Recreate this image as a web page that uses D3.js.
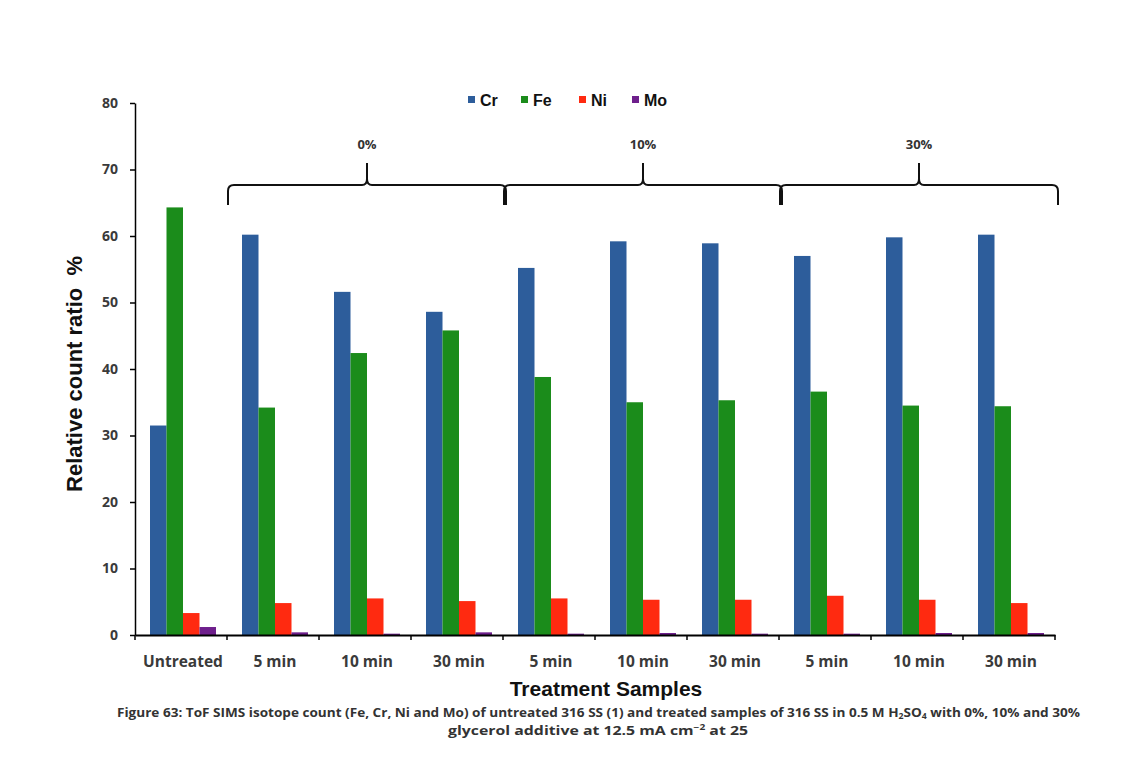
<!DOCTYPE html>
<html>
<head>
<meta charset="utf-8">
<script src="https://cdn.jsdelivr.net/npm/d3@7"></script>
<style>
  body { margin: 0; background: #fff; }
  svg { display: block; }
</style>
</head>
<body>
<svg id="chart" width="1125" height="771"></svg>
<script>
// ---- data ----
const categories = ["Untreated", "5 min", "10 min", "30 min", "5 min", "10 min", "30 min", "5 min", "10 min", "30 min"];
const seriesNames = ["Cr", "Fe", "Ni", "Mo"];
const cr = [31.5, 60.2, 51.6, 48.6, 55.2, 59.2, 58.9, 57.0, 59.8, 60.2];
const fe = [64.3, 34.2, 42.4, 45.8, 38.8, 35.0, 35.3, 36.6, 34.5, 34.4];
const ni = [3.3, 4.8, 5.5, 5.1, 5.5, 5.3, 5.3, 5.9, 5.3, 4.8];
const mo = [1.2, 0.4, 0.2, 0.4, 0.2, 0.3, 0.2, 0.2, 0.3, 0.3];
const yTicks = [0, 10, 20, 30, 40, 50, 60, 70, 80];
const groups = [
  { label: "0%", from: 1, to: 3 },
  { label: "10%", from: 4, to: 6 },
  { label: "30%", from: 7, to: 9 }
];
const colors = ["#2d5d9b", "#1b8c1b", "#ff2a10", "#6e1f8c"];

// ---- layout ----
const svg = d3.select("#chart");
const mLeft = 135, mRight = 1055, mTop = 103, mBottom = 635;

const x = d3.scaleBand().domain(d3.range(categories.length)).range([mLeft, mRight]).paddingInner(0).paddingOuter(0);
const inner = d3.scaleBand().domain(seriesNames).range([15, 15 + 66]);
const y = d3.scaleLinear().domain([0, 80]).range([mBottom, mTop]);

const seriesValues = [cr, fe, ni, mo];

// bars
seriesNames.forEach((s, si) => {
  svg.append("g").selectAll("rect")
    .data(seriesValues[si])
    .join("rect")
    .attr("x", (d, i) => x(i) + inner(s))
    .attr("y", d => y(d))
    .attr("width", inner.bandwidth())
    .attr("height", d => y(0) - y(d))
    .attr("fill", colors[si]);
});

// y axis
const yAxis = d3.axisLeft(y).tickValues(yTicks).tickSize(5).tickSizeOuter(0).tickPadding(12);
const yg = svg.append("g").attr("transform", `translate(${mLeft},0)`).call(yAxis);
yg.select(".domain").attr("stroke", "#000").attr("stroke-width", 1.5);
yg.selectAll(".tick line").attr("stroke", "#000").attr("stroke-width", 1.5);
yg.selectAll(".tick text")
  .attr("font-family", "'Open Sans', 'Liberation Sans', sans-serif")
  .attr("font-weight", "bold").attr("font-size", 14).attr("fill", "#3a3a3a");

// x axis
const xAxis = d3.axisBottom(x).tickValues([]).tickSizeOuter(0);
const xg = svg.append("g").attr("transform", `translate(0,${mBottom})`).call(xAxis);
xg.select(".domain").attr("stroke", "#000").attr("stroke-width", 2);
// category boundary ticks
svg.append("g").selectAll("line")
  .data(d3.range(categories.length + 1))
  .join("line")
  .attr("x1", i => mLeft + i * x.step())
  .attr("x2", i => mLeft + i * x.step())
  .attr("y1", mBottom)
  .attr("y2", mBottom + 5)
  .attr("stroke", "#000").attr("stroke-width", 1.5);
// category labels
svg.append("g").selectAll("text")
  .data(categories)
  .join("text")
  .attr("x", (d, i) => x(i) + x.bandwidth() / 2 + 2)
  .attr("y", 667)
  .attr("text-anchor", "middle")
  .attr("font-family", "'Open Sans', 'Liberation Sans', sans-serif")
  .attr("font-weight", "bold").attr("font-size", 15.5).attr("fill", "#3a3a3a")
  .text(d => d);

// axis titles
svg.append("text")
  .attr("transform", "translate(82,374) rotate(-90)")
  .attr("text-anchor", "middle")
  .attr("font-family", "'Liberation Sans', Arial, sans-serif")
  .attr("font-weight", "bold").attr("font-size", 22).attr("fill", "#111")
  .attr("xml:space", "preserve")
  .text("Relative count ratio  %");

svg.append("text")
  .attr("x", 606).attr("y", 696)
  .attr("text-anchor", "middle")
  .attr("font-family", "'Liberation Sans', Arial, sans-serif")
  .attr("font-weight", "bold").attr("font-size", 21).attr("fill", "#111")
  .text("Treatment Samples");

// legend
const legendX = [468, 521, 579, 632];
const lg = svg.append("g");
seriesNames.forEach((s, si) => {
  lg.append("rect").attr("x", legendX[si]).attr("y", 96).attr("width", 7).attr("height", 7).attr("fill", colors[si]);
  lg.append("text").attr("x", legendX[si] + 12).attr("y", 106)
    .attr("font-family", "'Liberation Sans', Arial, sans-serif")
    .attr("font-weight", "bold").attr("font-size", 16).attr("fill", "#111")
    .text(s);
});

// brackets
const bg = svg.append("g");
groups.forEach(g => {
  const x0 = mLeft + g.from * x.step() + 1;
  const x1 = mLeft + (g.to + 1) * x.step() + 3;
  const xm = (x0 + x1) / 2;
  const yb = 185, yEnd = 205, yPeak = 163;
  const p = d3.path();
  p.moveTo(x0, yEnd);
  p.lineTo(x0, yb + 6);
  p.quadraticCurveTo(x0, yb, x0 + 6, yb);
  p.lineTo(xm - 5, yb);
  p.quadraticCurveTo(xm, yb, xm, yb - 6);
  p.lineTo(xm, yPeak);
  p.moveTo(xm, yb - 6);
  p.quadraticCurveTo(xm, yb, xm + 5, yb);
  p.lineTo(x1 - 6, yb);
  p.quadraticCurveTo(x1, yb, x1, yb + 6);
  p.lineTo(x1, yEnd);
  bg.append("path").attr("d", p.toString()).attr("fill", "none").attr("stroke", "#111").attr("stroke-width", 2);
  bg.append("text").attr("x", xm).attr("y", 149).attr("text-anchor", "middle")
    .attr("font-family", "'Open Sans', 'Liberation Sans', sans-serif")
    .attr("font-weight", "bold").attr("font-size", 13).attr("fill", "#333")
    .text(g.label);
});

// caption
const cap = svg.append("g")
  .attr("font-family", "'Open Sans', 'Liberation Sans', sans-serif")
  .attr("font-weight", "bold").attr("font-size", 12.5).attr("fill", "#333");
const l1 = cap.append("text").attr("x", 117).attr("y", 717).attr("textLength", 963).attr("lengthAdjust", "spacingAndGlyphs");
l1.append("tspan").text("Figure 63: ToF SIMS isotope count (Fe, Cr, Ni and Mo) of untreated 316 SS (1) and treated samples of 316 SS in 0.5 M H");
l1.append("tspan").attr("font-size", 8).attr("dy", 2).text("2");
l1.append("tspan").attr("dy", -2).text("SO");
l1.append("tspan").attr("font-size", 8).attr("dy", 2).text("4");
l1.append("tspan").attr("dy", -2).text(" with 0%, 10% and 30%");
const l2 = cap.append("text").attr("x", 448).attr("y", 735).attr("textLength", 300).attr("lengthAdjust", "spacingAndGlyphs");
l2.append("tspan").text("glycerol additive at 12.5 mA cm");
l2.append("tspan").attr("font-size", 8).attr("dy", -5).text("−2");
l2.append("tspan").attr("dy", 5).text(" at 25");
</script>
</body>
</html>
